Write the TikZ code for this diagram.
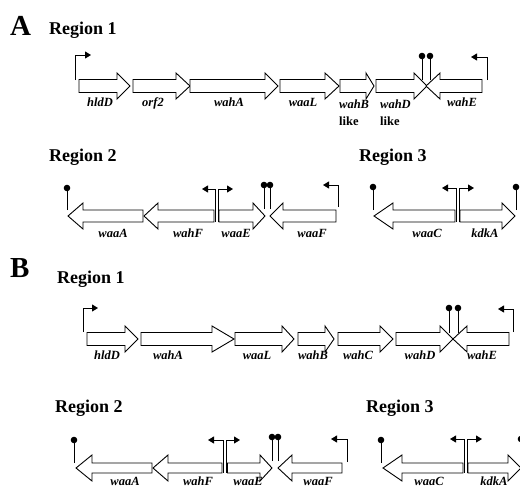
\documentclass[tikz,border=0pt]{standalone}
\usepackage{fontspec}
\setmainfont{Liberation Serif}
\usetikzlibrary{arrows.meta}
\tikzset{
 genebox/.style={draw=black, fill=white, line width=0.9pt, line join=miter},
 genelbl/.style={font=\fontsize{12.5}{12.5}\selectfont\bfseries\itshape, anchor=base, inner sep=0pt},
 likelbl/.style={font=\fontsize{12.5}{12.5}\selectfont\bfseries, anchor=base west, inner sep=0pt},
 reglbl/.style={font=\fontsize{18}{18}\selectfont\bfseries, anchor=base west, inner sep=0pt},
 panellbl/.style={font=\fontsize{29}{29}\selectfont\bfseries, anchor=base west, inner sep=0pt},
 promline/.style={line width=0.9pt, -{Triangle[length=6pt,width=7pt]}},
 termline/.style={line width=0.9pt},
}
\def\bh{6.5}
% right-pointing gene: start, head base, tip, y centre
\newcommand{\geneR}[4]{\draw[genebox] (#1,#4-\bh) -- (#2,#4-\bh) -- (#2,#4-13) -- (#3,#4) -- (#2,#4+13) -- (#2,#4+\bh) -- (#1,#4+\bh) -- cycle;}
% left-pointing gene: tip, head base, end, y centre
\newcommand{\geneL}[4]{\draw[genebox] (#1,#4) -- (#2,#4-13) -- (#2,#4-\bh) -- (#3,#4-\bh) -- (#3,#4+\bh) -- (#2,#4+\bh) -- (#2,#4+13) -- cycle;}
% terminator: x, dot y, stem bottom
\newcommand{\termin}[3]{\draw[termline] (#1,#3) -- (#1,#2); \fill (#1,#2) circle[radius=3.3pt];}
% promoter: x, y bottom, y top, x end
\newcommand{\promo}[4]{\draw[promline] (#1,#2) -- (#1,#3) -- (#4,#3);}
\begin{document}
\begin{tikzpicture}[x=1pt,y=-1pt]
\useasboundingbox (0,0) rectangle (520,496);
\clip (0,0) rectangle (520,496);
% ---------------- Panel A ----------------
\node[panellbl] (pA) at (10,35) {A};
\node[reglbl] (rA1) at (49,34) {Region 1};
\promo{75}{80}{55}{91}
\geneR{79}{117}{130}{86}
\geneR{133}{176}{190}{86}
\geneR{190}{265}{278}{86}
\geneR{280}{325}{339}{86}
\geneR{340}{366}{374}{86}
\geneR{376}{414}{427}{86}
\geneL{426}{440}{482}{86}
\termin{422}{56}{80}
\termin{430}{56}{80}
\promo{487}{80}{57}{471}
\node[genelbl] (a1) at (100,106) {hldD};
\node[genelbl] (a2) at (153,106) {orf2};
\node[genelbl] (a3) at (229,106) {wahA};
\node[genelbl] (a4) at (303,106) {waaL};
\node[genelbl,anchor=base west] (a5) at (339,108) {wahB};
\node[likelbl] (a5l) at (339,125) {like};
\node[genelbl,anchor=base west] (a6) at (380,108) {wahD};
\node[likelbl] (a6l) at (380,125) {like};
\node[genelbl] (a7) at (462,106) {wahE};
% Region 2 A
\def\bh{6}
\node[reglbl] (rA2) at (49,161.5) {Region 2};
\termin{67}{188}{210}
\geneL{68}{83}{143}{216}
\geneL{144}{158}{214}{216}
\promo{215.5}{222}{189}{202}
\promo{218.5}{222}{189}{233}
\geneR{219}{253}{265}{216}
\termin{264}{185}{209}
\termin{270}{185}{209}
\geneL{270}{283}{336}{216}
\promo{338}{207}{185}{323}
\node[genelbl] (b1) at (113,237) {waaA};
\node[genelbl] (b2) at (188,237) {wahF};
\node[genelbl] (b3) at (236,237) {waaE};
\node[genelbl] (b4) at (312,237) {waaF};
% Region 3 A
\node[reglbl] (rA3) at (359,161.5) {Region 3};
\termin{373}{187}{210}
\geneL{374}{393}{455}{216}
\promo{456.5}{222}{188}{442}
\promo{459.5}{222}{188}{474}
\geneR{460}{502}{515}{216}
\termin{516}{187}{210}
\node[genelbl] (c1) at (427,237) {waaC};
\node[genelbl] (c2) at (485,237) {kdkA};
% ---------------- Panel B ----------------
\def\bh{6.5}
\node[panellbl] (pB) at (10,277) {B};
\node[reglbl] (rB1) at (57,283) {Region 1};
\promo{83}{332}{308}{98}
\geneR{87}{125}{138}{339}
\geneR{141}{212}{234}{339}
\geneR{235}{282}{294}{339}
\geneR{298}{325}{334}{339}
\geneR{338}{380}{393}{339}
\geneR{396}{440}{453}{339}
\geneL{453}{467}{509}{339}
\termin{449}{308}{333}
\termin{458}{308}{333}
\promo{513}{332}{309}{498}
\node[genelbl] (d1) at (107,359) {hldD};
\node[genelbl] (d2) at (168,359) {wahA};
\node[genelbl] (d3) at (257,359) {waaL};
\node[genelbl] (d4) at (313,359) {wahB};
\node[genelbl] (d5) at (358,359) {wahC};
\node[genelbl] (d6) at (420,359) {wahD};
\node[genelbl] (d7) at (482,359) {wahE};
% Region 2 B
\def\bh{5}
\node[reglbl] (rB2) at (55,412) {Region 2};
\termin{74}{440}{463}
\geneL{76}{92}{152}{468}
\geneL{153}{168}{222}{468}
\promo{223.5}{473}{440}{208}
\promo{226.5}{473}{440}{240}
\geneR{227.5}{260}{272}{468}
\termin{272}{437}{461}
\termin{278}{437}{461}
\geneL{278}{292}{342}{468}
\promo{347}{462}{439}{331}
\node[genelbl] (e1) at (125,485.5) {waaA};
\node[genelbl] (e2) at (198,485.5) {wahF};
\node[genelbl] (e3) at (248,485.5) {waaE};
\node[genelbl] (e4) at (318,485.5) {waaF};
% Region 3 B
\node[reglbl] (rB3) at (366,412) {Region 3};
\termin{381}{440}{463}
\geneL{383}{402}{463}{468}
\promo{464.5}{473}{439}{450}
\promo{467.5}{473}{439}{482}
\geneR{468}{508}{521}{468}
\termin{521}{439}{462}
\node[genelbl] (f1) at (429,485.5) {waaC};
\node[genelbl] (f2) at (494,485.5) {kdkA};
\end{tikzpicture}
\end{document}
